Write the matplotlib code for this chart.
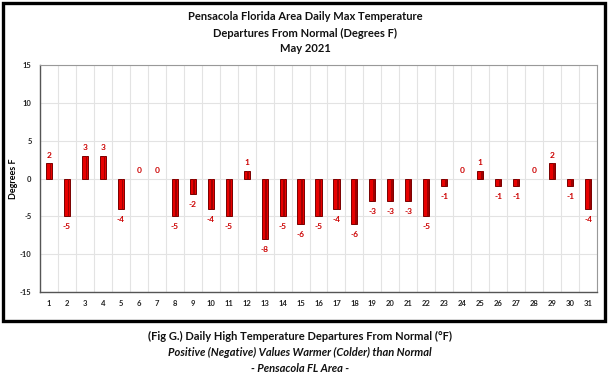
import matplotlib
matplotlib.use("Agg")
import matplotlib.pyplot as plt
from matplotlib.patches import Rectangle
import numpy as np

plt.rcParams['font.family'] = ['Lato', 'DejaVu Sans']

days = list(range(1, 32))
departures = [2, -5, 3, 3, -4, 0, 0, -5, -2, -4, -5, 1, -8, -5, -6, -5, -4, -6,
              -3, -3, -3, -5, -1, 0, 1, -1, -1, 0, 2, -1, -4]
title_lines = ["Pensacola Florida Area Daily Max Temperature",
               "Departures From Normal (Degrees F)",
               "May 2021"]
caption_lines = ["(Fig G.) Daily High Temperature Departures From Normal (°F)",
                 "Positive (Negative) Values Warmer (Colder) than Normal",
                 "- Pensacola FL Area -"]
yticks = [-15, -10, -5, 0, 5, 10, 15]

W, H = 608, 385
fig = plt.figure(figsize=(W / 100, H / 100), dpi=100)
fig.patch.set_facecolor('white')

# outer frame
fig.patches.append(Rectangle((3 / W, 1 - 321 / H), 602 / W, 318 / H,
                             transform=fig.transFigure, fill=False,
                             edgecolor='black', linewidth=2.4))

ax = fig.add_axes([40 / W, 1 - 292 / H, 557 / W, 227 / H])
x = np.arange(len(days))
lws = [0.7 if v != 0 else 0 for v in departures]
ax.bar(x, departures, width=0.34, color='#e80000', edgecolor='#7a0000',
       linewidth=lws, zorder=3)
# darker right side for 3D look
ax.bar(x + 0.09, departures, width=0.10, color='#a00000', linewidth=0, zorder=4)

ax.set_xlim(-0.5, len(days) - 0.5)
ax.set_ylim(-15, 15)
ax.set_yticks(yticks)
ax.set_yticklabels([str(v) for v in yticks])
ax.set_xticks(x)
ax.set_xticklabels([str(d) for d in days])
ax.tick_params(axis='both', length=0, labelsize=5.5, colors='#222222')
ax.tick_params(axis='x', pad=6)
ax.tick_params(axis='y', pad=6)
for lab in ax.get_xticklabels() + ax.get_yticklabels():
    lab.set_fontweight('bold')

# grid
ax.set_xticks(np.arange(-0.5, len(days), 1), minor=True)
ax.grid(which='minor', axis='x', color='#e3e3e3', linewidth=0.8, zorder=0)
ax.grid(which='major', axis='y', color='#e3e3e3', linewidth=0.8, zorder=0)
ax.tick_params(which='minor', length=0)
for side in ['top', 'right']:
    ax.spines[side].set_color('#999999')
    ax.spines[side].set_linewidth(0.8)
for side in ['left', 'bottom']:
    ax.spines[side].set_color('#555555')
    ax.spines[side].set_linewidth(1.0)

ax.set_ylabel("Degrees F", fontsize=6.5, fontweight='bold')
ax.yaxis.set_label_coords(-22 / 557, 0.5)

for xi, v in zip(x, departures):
    if v >= 0:
        ax.annotate(str(v), (xi, v), xytext=(0, 6), textcoords='offset points',
                    ha='center', va='center', fontsize=6, fontweight='bold',
                    color='#cc0000')
    else:
        ax.annotate(str(v), (xi, v), xytext=(0, -7.5), textcoords='offset points',
                    ha='center', va='center', fontsize=6, fontweight='bold',
                    color='#cc0000')

for i, (t, yy) in enumerate(zip(title_lines, [17, 33, 48])):
    fig.text(305 / W, 1 - yy / H, t, ha='center', va='center', fontsize=8,
             fontweight='bold', color='#111111')

styles = [('normal', 'bold'), ('italic', 'bold'), ('italic', 'bold')]
for t, yy, (st, wt) in zip(caption_lines, [336, 352, 368], styles):
    fig.text(300 / W, 1 - yy / H, t, ha='center', va='center', fontsize=8,
             fontweight=wt, fontstyle=st, color='#111111')

fig.savefig("out.png", dpi=100)
